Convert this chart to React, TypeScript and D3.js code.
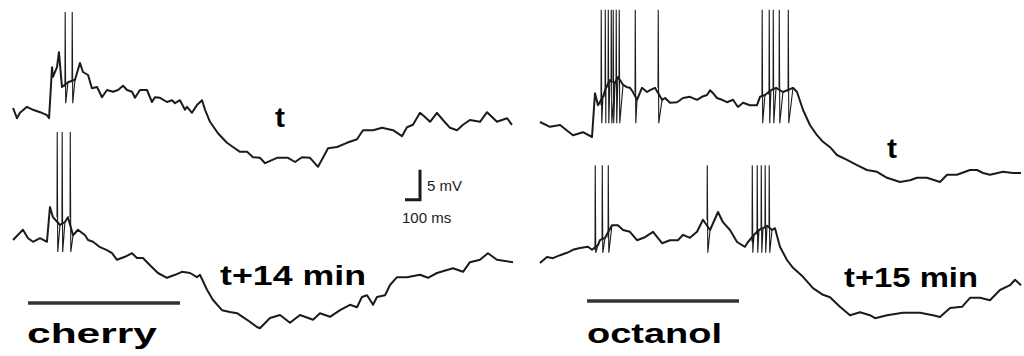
import React from "react";
import * as d3 from "d3";

type P = [number, number]; // [time ms, membrane potential mV relative to start]

// ---- Left cell (cherry) : time t ----
const cherryT: P[] = [
  [7, 0], [33, -1.7], [53, -0.8], [100, 0.2], [140, -0.3], [187, -0.7], [233, -1.2], [247, -1.7],
  [267, 6.8], [273, 5.2], [300, 6.8], [313, 9.3], [333, 3.5], [373, 4.3], [420, 4.7], [453, 7.5],
  [473, 6], [507, 5.5], [533, 3.3], [567, 3.5], [600, 1.8], [633, 3], [673, 2.7], [707, 3],
  [740, 3.7], [767, 3], [800, 2.7], [820, 1.7], [853, 3], [900, 3], [933, 1], [953, 1.8],
  [987, 1.7], [1033, 1], [1067, 1.3], [1087, 0.8], [1120, 1.3], [1153, -0.3], [1167, 0.2],
  [1200, -0.8], [1233, 0.5], [1267, 1.3], [1287, -0.3], [1320, -2.3], [1373, -4.2], [1433, -5.8],
  [1473, -6.5], [1520, -7.3], [1567, -7.3], [1607, -8.2], [1653, -8.3], [1687, -9.2], [1767, -8.3],
  [1840, -8.3], [1887, -9], [1933, -8.2], [1987, -8.3], [2040, -9.8], [2073, -8.3], [2107, -6.7],
  [2167, -6.5], [2233, -5.8], [2300, -5.2], [2340, -3.7], [2407, -3.7], [2467, -3.3], [2540, -3.7],
  [2600, -4.7], [2633, -3.2], [2673, -2.8], [2720, -0.8], [2753, -1.5], [2787, -2.3], [2833, -0.8],
  [2873, -2], [2920, -3.3], [2967, -3.7], [3007, -2.8], [3053, -2], [3120, -2.3], [3167, -0.7],
  [3233, -2.3], [3300, -1.7], [3333, -2.8],
];
const cherryTSpikes = [353, 400];
const cherryTPeak = 16;
const cherryTTrough = 0.8;

// ---- Left cell (cherry) : t + 14 min ----
const cherry14: P[] = [
  [7, 0], [73, 1.7], [107, 0.3], [140, -0.3], [187, 0.3], [233, -0.3], [253, 5.5], [273, 3.8],
  [320, 2.5], [353, 3], [373, 3.8], [407, 0.8], [440, 1.7], [487, 0.8], [507, 0], [540, -0.3],
  [587, -1.2], [633, -1.7], [667, -2.2], [700, -3.3], [753, -2.8], [800, -2.2], [833, -3],
  [873, -3], [920, -4.2], [973, -5.5], [1033, -6.3], [1087, -5.8], [1133, -5.3], [1187, -5.5],
  [1233, -6.2], [1253, -5.8], [1300, -8.3], [1340, -10], [1400, -11.7], [1453, -12], [1500, -12.2],
  [1567, -13.3], [1633, -14.5], [1653, -14.7], [1720, -13], [1787, -12.5], [1853, -13.8],
  [1920, -12.5], [2007, -13.3], [2053, -12.2], [2120, -12.8], [2187, -11.7], [2253, -10.8],
  [2300, -11.2], [2333, -9.5], [2367, -9.2], [2407, -10.8], [2433, -9.5], [2487, -9.2], [2520, -7.5],
  [2567, -6.2], [2633, -6.2], [2720, -5.8], [2773, -6.3], [2833, -5.5], [2940, -4.7], [3007, -5.3],
  [3053, -3.7], [3120, -3.3], [3173, -2.2], [3233, -3.3], [3340, -3.7],
];
const cherry14Spikes = [300, 333, 387];
const cherry14Peak = 18;
const cherry14Trough = -2;

// ---- Right cell (octanol) : time t ----
const octanolT: P[] = [
  [13, 0], [80, -0.8], [147, -0.5], [233, -2.2], [300, -1.7], [360, -2.5], [380, 4.8], [400, 2.8],
  [433, 4.2], [453, 5.7], [480, 7], [513, 6.5], [533, 7.5], [567, 6.2], [593, 5.8], [613, 5.7],
  [633, 5], [660, 3.7], [693, 5.7], [727, 5], [747, 5.3], [780, 5.7], [827, 3.7], [847, 4],
  [880, 3.2], [927, 3.3], [967, 4], [1013, 4.2], [1060, 3.7], [1093, 4.2], [1127, 4.5], [1147, 5.3],
  [1167, 4.8], [1193, 4], [1227, 3.7], [1260, 3.3], [1300, 3.7], [1333, 2.5], [1367, 3.2],
  [1413, 2.8], [1460, 2.8], [1480, 4.2], [1513, 4.5], [1553, 5.3], [1587, 5.7], [1633, 5],
  [1700, 5.7], [1727, 5], [1767, 2], [1813, -0.5], [1860, -2.2], [1900, -3.3], [1947, -4.2],
  [1993, -5.5], [2060, -6.3], [2127, -7.2], [2193, -8], [2260, -8.3], [2327, -9.3], [2413, -10],
  [2480, -9.7], [2527, -9.3], [2593, -9.3], [2680, -10], [2727, -8.8], [2793, -8.8], [2880, -8],
  [2927, -8], [2967, -8.5], [3013, -8.8], [3100, -8.3], [3167, -8.5], [3220, -8.5],
];
const octanolTSpikes = [420, 447, 467, 487, 500, 520, 540, 647, 800, 1493, 1540, 1567, 1607, 1667];
const octanolTPeak = 18.7;
const octanolTTrough = -0.2;

// ---- Right cell (octanol) : t + 15 min ----
const octanol15: P[] = [
  [13, 0], [60, 1], [100, 0.8], [147, 1.3], [193, 1.7], [233, 2.2], [280, 2.5], [333, 2.7],
  [360, 2.2], [400, 3], [413, 3.8], [447, 4.2], [493, 6.3], [533, 6.3], [567, 5.5], [613, 5.2],
  [660, 3.8], [713, 4.3], [767, 5.2], [827, 3.3], [880, 3.8], [933, 3.8], [967, 4.7], [1013, 4.2],
  [1060, 5.2], [1100, 7.2], [1147, 5.5], [1200, 8.5], [1233, 6.8], [1280, 5.5], [1327, 3.5],
  [1380, 2.7], [1400, 3.5], [1440, 4.7], [1473, 5.5], [1500, 5.8], [1527, 6.2], [1560, 5.5],
  [1580, 5.8], [1613, 2.7], [1660, 0.5], [1700, -0.8], [1767, -2.3], [1833, -4.2], [1900, -5.3],
  [1947, -5.7], [2013, -7.3], [2080, -8.7], [2147, -8.2], [2213, -8.7], [2247, -9.2], [2327, -8.7],
  [2433, -8.3], [2547, -8.3], [2633, -8.7], [2680, -9], [2747, -7.5], [2827, -7.3], [2880, -5.8],
  [2947, -5.8], [3013, -6.2], [3080, -4.5], [3147, -3.7], [3180, -2.8], [3220, -3.7],
];
const octanol15Spikes = [380, 427, 467, 1127, 1427, 1460, 1487, 1513, 1540];
const octanol15Peak = 16.3;
const octanol15Trough = 1.7;

// odour stimulus periods (ms)
const cherryStim: [number, number] = [107, 1120];
const octanolStim: [number, number] = [327, 1340];

// scale bar: 100 ms, 5 mV, anchored at [ms, mV] in the lower-left trace frame
const scaleBarAnchor: P = [2620, 6.7];
const scaleBarMs = 100;
const scaleBarMv = 5;

// ---- layout ----
const W = 1024;
const H = 356;
const PX_PER_MS = 0.15;
const PX_PER_MV = 6;
const xLeft = d3.scaleLinear().domain([0, 3400]).range([12, 12 + 3400 * PX_PER_MS]);
const xRight = d3.scaleLinear().domain([0, 3400]).range([538, 538 + 3400 * PX_PER_MS]);
const yFor = (y0: number) => d3.scaleLinear().domain([0, 10]).range([y0, y0 - 10 * PX_PER_MV]);

const INK = "#1b1b1b";

function Trace({ data, spikes, peak, trough, x, y }: {
  data: P[]; spikes: number[]; peak: number; trough: number;
  x: d3.ScaleLinear<number, number>; y: d3.ScaleLinear<number, number>;
}) {
  const line = d3.line<P>().x((d) => x(d[0])).y((d) => y(d[1]));
  const spikePaths = spikes.map((ts) => {
    const before = [...data].reverse().find((d) => d[0] < ts) as P;
    const after = data.find((d) => d[0] > ts + 5) as P;
    const pts: P[] = [[ts, before[1]], [ts + 1.5, peak], [ts + 5, trough]];
    if (after) pts.push(after);
    return line(pts) || "";
  });
  return (
    <g>
      <path d={line(data) || ""} fill="none" stroke={INK} strokeWidth={2} strokeLinejoin="round" />
      {spikePaths.map((d, i) => (
        <path key={i} d={d} fill="none" stroke={INK} strokeWidth={1.1} />
      ))}
    </g>
  );
}

const boldFont = "'Liberation Sans', Arial, Helvetica, sans-serif";

export default function App() {
  const yLT = yFor(108);
  const yLB = yFor(240);
  const yRT = yFor(122);
  const yRB = yFor(263);
  const sbx0 = xLeft(scaleBarAnchor[0]);
  const sbx1 = xLeft(scaleBarAnchor[0] + scaleBarMs);
  const sby0 = yLB(scaleBarAnchor[1]);
  const sby1 = yLB(scaleBarAnchor[1] + scaleBarMv);
  return (
    <svg width={W} height={H} style={{ position: "absolute", left: 0, top: 0, background: "#fff" }}>
      <rect width={W} height={H} fill="#fff" />
      <Trace data={cherryT} spikes={cherryTSpikes} peak={cherryTPeak} trough={cherryTTrough} x={xLeft} y={yLT} />
      <Trace data={cherry14} spikes={cherry14Spikes} peak={cherry14Peak} trough={cherry14Trough} x={xLeft} y={yLB} />
      <Trace data={octanolT} spikes={octanolTSpikes} peak={octanolTPeak} trough={octanolTTrough} x={xRight} y={yRT} />
      <Trace data={octanol15} spikes={octanol15Spikes} peak={octanol15Peak} trough={octanol15Trough} x={xRight} y={yRB} />

      {/* stimulus bars */}
      <line x1={xLeft(cherryStim[0])} x2={xLeft(cherryStim[1])} y1={303} y2={303} stroke="#333" strokeWidth={3.5} />
      <line x1={xRight(octanolStim[0])} x2={xRight(octanolStim[1])} y1={301} y2={301} stroke="#333" strokeWidth={3.5} />

      {/* scale bar */}
      <path d={`M${sbx1},${sby1}V${sby0}H${sbx0}`} fill="none" stroke={INK} strokeWidth={3} />
      <text x={427} y={191} fontFamily={boldFont} fontSize={15} fill={INK}>5 mV</text>
      <text x={402} y={223} fontFamily={boldFont} fontSize={15} fill={INK}>100 ms</text>

      {/* labels */}
      <g fontFamily={boldFont} fontWeight="bold" fill="#000" fontSize={27}>
        <text x={275} y={127} textLength={10} lengthAdjust="spacingAndGlyphs">t</text>
        <text x={220} y={285} textLength={146} lengthAdjust="spacingAndGlyphs">t+14 min</text>
        <text x={887} y={158} textLength={10} lengthAdjust="spacingAndGlyphs">t</text>
        <text x={844} y={287} textLength={134} lengthAdjust="spacingAndGlyphs">t+15 min</text>
        <text x={27} y={343} textLength={130} lengthAdjust="spacingAndGlyphs">cherry</text>
        <text x={587} y={343} textLength={135} lengthAdjust="spacingAndGlyphs">octanol</text>
      </g>
    </svg>
  );
}
